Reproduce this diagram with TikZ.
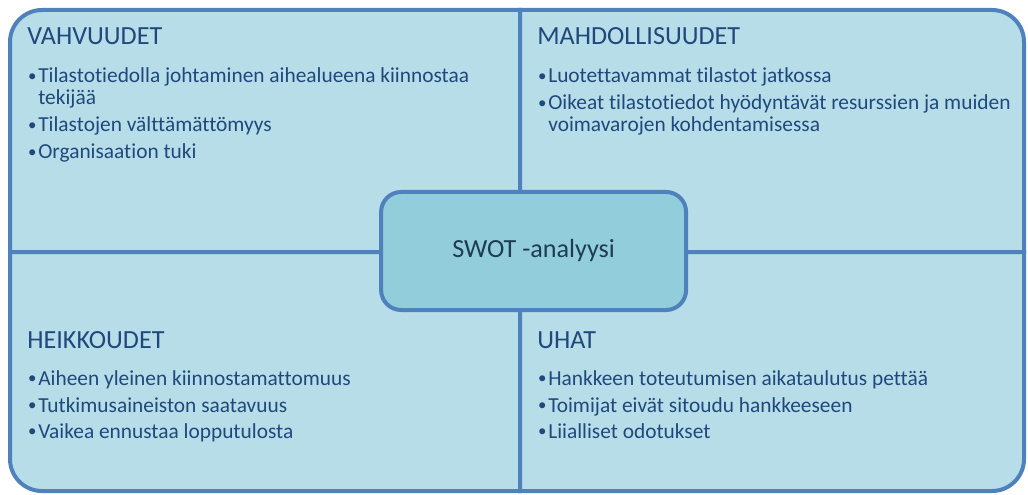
\documentclass[tikz,border=0pt]{standalone}
\usepackage{fontspec}
\setmainfont{Carlito}[Ligatures=NoCommon]
\usepackage{tikz}
\usetikzlibrary{positioning, calc, shapes}

\definecolor{quadfill}{RGB}{183,221,232}
\definecolor{swotfill}{RGB}{146,205,220}
\definecolor{swotline}{RGB}{79,129,189}
\definecolor{swottext}{RGB}{31,73,125}
\definecolor{centertext}{RGB}{30,60,85}

\newcommand{\swotbullet}{\makebox[2.75mm][l]{\hspace{0.2mm}%
  \raisebox{0.35mm}{\fontsize{12pt}{12pt}\selectfont\textbullet}}}

\tikzset{
  quad/.style={draw=swotline, fill=quadfill, line width=1mm},
  swottitle/.style={anchor=base west, inner sep=0, text=swottext,
    font=\fontsize{18.6pt}{22pt}\selectfont},
  swotitem/.style={anchor=base west, inner sep=0, text=swottext,
    font=\fontsize{15.2pt}{15pt}\selectfont},
}

\begin{document}
\begin{tikzpicture}
\useasboundingbox (0,0) rectangle (257mm,123.5mm);

\draw[quad] (2.5mm,60.5mm) -- (2.5mm,113mm)
  arc[start angle=180, end angle=90, radius=8mm] -- (130mm,121mm)
  -- (130mm,60.5mm) -- cycle;
\draw[quad] (130mm,60.5mm) -- (130mm,121mm) -- (248mm,121mm)
  arc[start angle=90, end angle=0, radius=8mm] -- (256mm,60.5mm) -- cycle;
\draw[quad] (2.5mm,60.5mm) -- (2.5mm,8.75mm)
  arc[start angle=180, end angle=270, radius=8mm] -- (130mm,0.75mm)
  -- (130mm,60.5mm) -- cycle;
\draw[quad] (130mm,60.5mm) -- (130mm,0.75mm) -- (248mm,0.75mm)
  arc[start angle=270, end angle=360, radius=8mm] -- (256mm,60.5mm) -- cycle;

\node[draw=swotline, fill=swotfill, line width=1mm, rounded corners=5mm,
  minimum width=76.25mm, minimum height=29.5mm, text=centertext,
  font=\fontsize{18.6pt}{22pt}\selectfont] (swot) at (133.4mm,60.75mm)
  {SWOT -analyysi};

\node[swottitle] (vahv) at (6.75mm,112.25mm) {VAHVUUDET};
\node[swotitem] (vahv1) at (6.75mm,102.75mm) {\swotbullet\parbox[t]{115mm}{%
  Tilastotiedolla johtaminen aihealueena kiinnostaa\\tekijää}};
\node[swotitem] (vahv2) at (6.75mm,90.5mm) {\swotbullet Tilastojen välttämättömyys};
\node[swotitem] (vahv3) at (6.75mm,83.75mm) {\swotbullet Organisaation tuki};

\node[swottitle] (mahd) at (134.25mm,112.25mm) {MAHDOLLISUUDET};
\node[swotitem] (mahd1) at (134.25mm,102.75mm) {\swotbullet Luotettavammat tilastot jatkossa};
\node[swotitem] (mahd2) at (134.25mm,96mm) {\swotbullet\parbox[t]{118mm}{%
  Oikeat tilastotiedot hyödyntävät resurssien ja muiden\\voimavarojen kohdentamisessa}};

\node[swottitle] (heik) at (6.75mm,36.5mm) {HEIKKOUDET};
\node[swotitem] (heik1) at (6.75mm,27.25mm) {\swotbullet Aiheen yleinen kiinnostamattomuus};
\node[swotitem] (heik2) at (6.75mm,20.5mm) {\swotbullet Tutkimusaineiston saatavuus};
\node[swotitem] (heik3) at (6.75mm,14mm) {\swotbullet Vaikea ennustaa lopputulosta};

\node[swottitle] (uhat) at (134.25mm,36.5mm) {UHAT};
\node[swotitem] (uhat1) at (134.25mm,27.25mm) {\swotbullet Hankkeen toteutumisen aikataulutus pettää};
\node[swotitem] (uhat2) at (134.25mm,20.5mm) {\swotbullet Toimijat eivät sitoudu hankkeeseen};
\node[swotitem] (uhat3) at (134.25mm,14mm) {\swotbullet Liialliset odotukset};

%\draw[step=5mm,color=gray] (0,0) grid (257mm,123.5mm);
\end{tikzpicture}
\end{document}
